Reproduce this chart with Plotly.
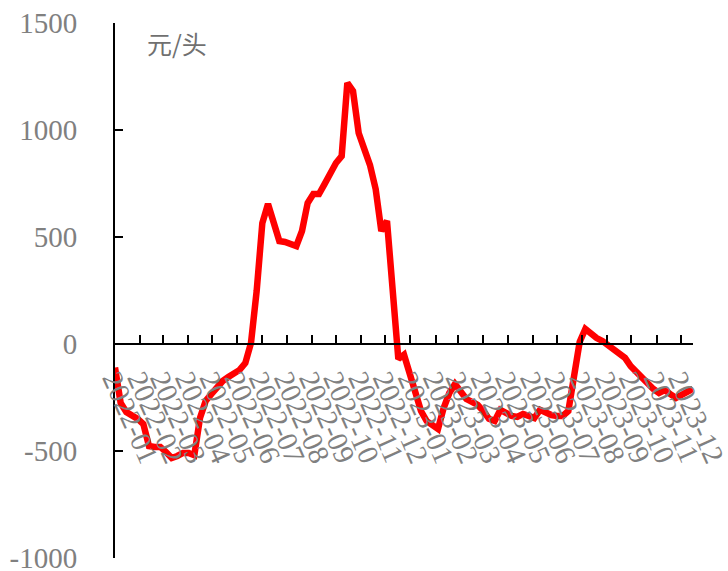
import pandas as pd
import plotly.graph_objects as go

start_date = "2022-01-07"
n_weeks = 103
dates = pd.date_range(start_date, periods=n_weeks, freq="7D")

profit = [
    -110, -276, -318, -332, -350, -374, -477, -481, -481, -505,
    -533, -523, -509, -509, -520, -346, -266, -234, -201, -173,
    -154, -140, -121, -89, 5, 248, 565, 654, 575, 481,
    477, 467, 458, 528, 659, 701, 701, 748, 799, 846,
    878, 1220, 1182, 986, 911, 836, 724, 528, 575, 220,
    -70, -50, -140, -243, -313, -360, -383, -397, -299, -229,
    -187, -220, -257, -271, -285, -313, -350, -360, -308, -322,
    -336, -341, -327, -336, -346, -308, -322, -332, -336, -336,
    -313, -150, 10, 70, 47, 28, 14, -5, -19, -42,
    -65, -103, -131, -164, -182, -210, -229, -215, -234, -252,
    -238, -220, -210,
]

y_ticks = [-1000, -500, 0, 500, 1000, 1500]
y_tick_text = ["-1000", "-500", "0", "500", "1000", "1500"]
unit_label = "元/头"

label_font = dict(family="Liberation Serif, Times New Roman, serif", size=29, color="#808080")

fig = go.Figure()
fig.add_trace(go.Scatter(
    x=dates, y=profit, mode="lines",
    line=dict(color="#FF0000", width=6.5),
    hoverinfo="skip", showlegend=False,
))

fig.update_layout(
    width=728, height=571,
    margin=dict(l=115, r=35, t=23, b=13),
    plot_bgcolor="white", paper_bgcolor="white",
    xaxis=dict(
        range=[dates[0], dates[-1]],
        tick0=start_date, dtick="M1", tickformat="%Y-%m",
        tickangle=66,
        showgrid=False, zeroline=False,
        showline=True, linecolor="black", linewidth=2,
        ticks="inside", ticklen=8, tickwidth=2, tickcolor="black",
        tickfont=label_font,
        anchor="free", position=0.4,
        ticklabelstandoff=6,
        automargin=False,
        ticklabeloverflow="allow",
    ),
    yaxis=dict(
        range=[-1000, 1500], tickvals=y_ticks, ticktext=y_tick_text,
        showgrid=False, zeroline=False,
        showline=True, linecolor="black", linewidth=2,
        ticks="inside", ticklen=8, tickwidth=2, tickcolor="black",
        tickfont=label_font,
        ticklabelstandoff=30,
        automargin=False,
        ticklabeloverflow="allow",
    ),
    annotations=[dict(
        text=unit_label, xref="paper", yref="paper",
        x=0.052, y=0.963, xanchor="left", yanchor="middle",
        showarrow=False,
        font=dict(family="Noto Sans CJK SC", size=25, color="#707070"),
    )],
)

fig.write_html("out.html")
